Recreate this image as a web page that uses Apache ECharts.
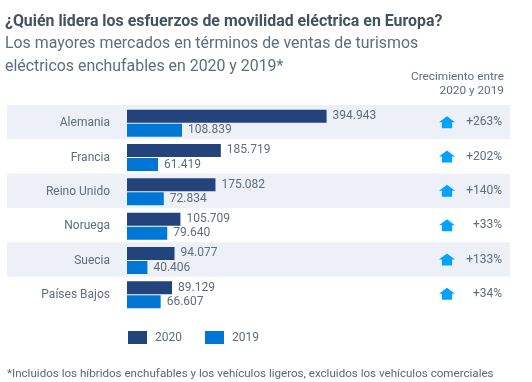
<!DOCTYPE html>
<html><head><meta charset="utf-8">
<style>html,body{margin:0;padding:0;background:#fff}#c{width:532px;height:382px}</style>
<script src="https://cdn.jsdelivr.net/npm/echarts@6/dist/echarts.min.js"></script>
</head><body><div id="c"></div>
<script>
const categories = ['Alemania','Francia','Reino Unido','Noruega','Suecia','Países Bajos'];
const values2020 = [394943,185719,175082,105709,94077,89129];
const values2019 = [108839,61419,72834,79640,40406,66607];
const growth = ['+263%','+202%','+140%','+33%','+133%','+34%'];
const iconColumn = categories.map(() => 0.236);
const arrowPath = 'path://M0 45 L50 0 L100 45 L82 45 L82 90 L18 90 L18 45 Z';
const font = 'Roboto';
const txt = '#5f6d7c';
const fmt = v => String(v).replace(/\B(?=(\d{3})+$)/g, '.');
const chart = echarts.init(document.getElementById('c'), null, {renderer:'canvas'});
const gridTop = 105, gridHeight = 206;
const catAxis = (extra) => Object.assign({type:'category', data:categories, inverse:true, axisLine:{show:false}, axisTick:{show:false}, axisLabel:{show:false}, splitLine:{show:false}}, extra);
const blankVal = (extra) => Object.assign({type:'value', show:false, splitLine:{show:false}}, extra);
chart.setOption({
  animation:false,
  backgroundColor:'#fff',
  textStyle:{fontFamily:font},
  title:[
    {text:'¿Quién lidera los esfuerzos de movilidad eléctrica en Europa?', left:0, top:9, textStyle:{fontFamily:font,fontSize:15.9,fontWeight:'bold',color:'#43525f'}},
    {text:'Los mayores mercados en términos de ventas de turismos', left:0, top:31.5, textStyle:{fontFamily:font,fontSize:15.9,fontWeight:'normal',color:'#5f6d7c'}},
    {text:'eléctricos enchufables en 2020 y 2019*', left:0, top:54, textStyle:{fontFamily:font,fontSize:15.9,fontWeight:'normal',color:'#5f6d7c'}},
    {text:'Crecimiento entre', right:23, top:66, textStyle:{fontFamily:font,fontSize:11.8,fontWeight:'normal',color:txt}},
    {text:'2020 y 2019', right:23, top:80, textStyle:{fontFamily:font,fontSize:11.8,fontWeight:'normal',color:txt}},
    {text:'*Incluidos los híbridos enchufables y los vehículos ligeros, excluidos los vehículos comerciales', left:2, top:363, textStyle:{fontFamily:font,fontSize:11.6,fontWeight:'normal',color:'#5a6876'}}
  ],
  legend:{data:['2020','2019'], left:123, top:326, itemWidth:19, itemHeight:13, itemGap:23, icon:'rect',
    textStyle:{fontFamily:font,fontSize:12,color:txt,padding:[0,0,0,3]}},
  grid:[
    {left:7, width:503, top:gridTop, height:gridHeight},
    {left:127, width:383, top:gridTop+1, height:gridHeight},
    {left:430, width:72, top:gridTop, height:gridHeight}
  ],
  xAxis:[
    blankVal({gridIndex:0,min:0,max:1}),
    blankVal({gridIndex:1,min:0,max:758000}),
    blankVal({gridIndex:2,min:0,max:1})
  ],
  yAxis:[
    catAxis({gridIndex:0, splitArea:{show:true, areaStyle:{color:['#edf0f6','#ffffff']}}}),
    catAxis({gridIndex:1, axisLabel:{show:true, margin:17, fontFamily:font, fontSize:12, color:txt}}),
    catAxis({gridIndex:2, data:growth, position:'right', axisLabel:{show:true, inside:true, margin:0, fontFamily:font, fontSize:12, color:txt}})
  ],
  series:[
    {name:'2020', type:'bar', xAxisIndex:1, yAxisIndex:1, data:values2020, barWidth:13, barGap:'8%',
      itemStyle:{color:'#23437c'}, label:{show:true, position:'right', distance:6, formatter:p=>fmt(p.value), fontFamily:font, fontSize:12, color:txt}},
    {name:'2019', type:'bar', xAxisIndex:1, yAxisIndex:1, data:values2019, barWidth:13,
      itemStyle:{color:'#0077d4'}, label:{show:true, position:'right', distance:6, formatter:p=>fmt(p.value), fontFamily:font, fontSize:12, color:txt}},
    {type:'scatter', xAxisIndex:2, yAxisIndex:2, data:iconColumn.map((x,i)=>[x,growth[i]]), symbol:arrowPath, symbolSize:[16,12], itemStyle:{color:'#00a3ff',opacity:1}}
  ]
});
</script></body></html>
